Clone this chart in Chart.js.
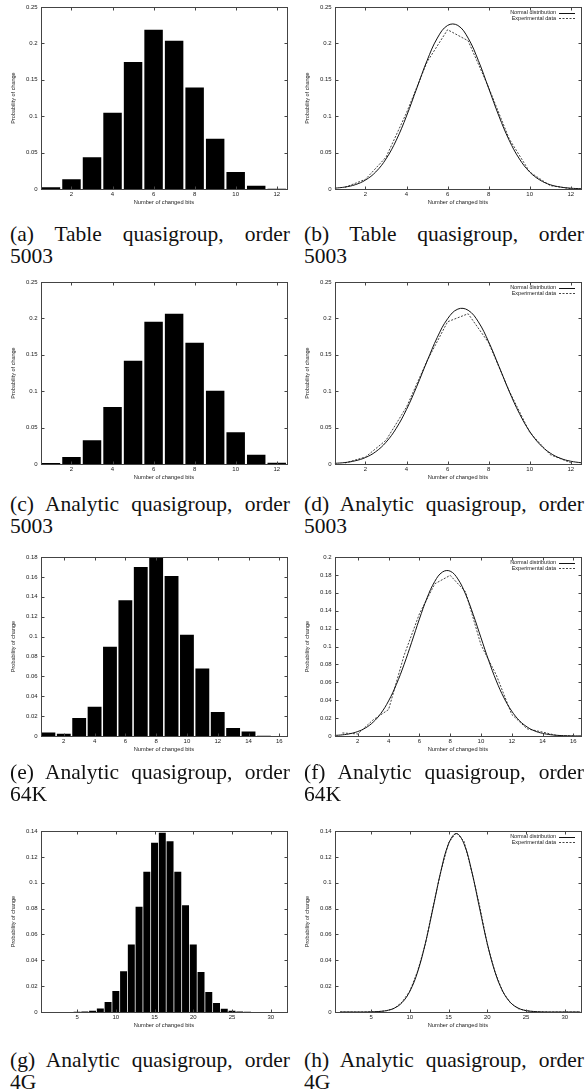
<!DOCTYPE html>
<html lang="en">
<head>
<meta charset="UTF-8">
<title>Probability of change vs number of changed bits</title>
<script src="https://cdn.jsdelivr.net/npm/chart.js"></script>
<style>
  body { margin: 0; background: #fff; }
  #page { position: relative; width: 588px; height: 1090px; overflow: hidden; }
  #page canvas { position: absolute; }
  .cap { position: absolute; width: 280px; font-family: 'Liberation Serif', 'Times New Roman', serif;
         font-size: 21.5px; line-height: 22.5px; color: #111; }
  .cap .l1 { text-align: justify; text-align-last: justify; }
</style>
</head>
<body>
<div id="page"></div>

<script>
// bar positions (number of changed bits)
const bits12 = [1, 2, 3, 4, 5, 6, 7, 8, 9, 10, 11, 12];
const bits16 = [1, 2, 3, 4, 5, 6, 7, 8, 9, 10, 11, 12, 13, 14, 15, 16];
const bits32 = [1, 2, 3, 4, 5, 6, 7, 8, 9, 10, 11, 12, 13, 14, 15, 16,
                17, 18, 19, 20, 21, 22, 23, 24, 25, 26, 27, 28, 29, 30, 31, 32];

// experimental probabilities
const tableQ5003 = [0.0023, 0.0133, 0.0437, 0.1048, 0.1745, 0.2188, 0.2036, 0.1395, 0.0690, 0.0234, 0.0046, 0.0005];
const analyticQ5003 = [0.0014, 0.0096, 0.0326, 0.0784, 0.1417, 0.1954, 0.2064, 0.1665, 0.1005, 0.0436, 0.0128, 0.0018];
const analyticQ64K = [0.0034, 0.0023, 0.0181, 0.0295, 0.0898, 0.1364, 0.1700, 0.1795, 0.1610, 0.1019,
                      0.0680, 0.0241, 0.0080, 0.0044, 0.0003, 0.0001];
const analyticQ4G = [0, 0, 0, 0, 0.0001, 0.0003, 0.0010, 0.0028, 0.0077, 0.0162, 0.0315, 0.0523, 0.0815, 0.1085,
                     0.1310, 0.1387, 0.1320, 0.1085, 0.0825, 0.0523, 0.0310, 0.0155, 0.0070, 0.0026, 0.0010,
                     0.0003, 0.0001, 0, 0, 0, 0, 0];

// normal distribution curves, sampled where read
const grid12 = [0.5, 1, 1.5, 2, 2.5, 3, 3.5, 4, 4.5, 5, 5.5, 6, 6.5, 7, 7.5, 8, 8.5, 9, 9.5, 10, 10.5, 11, 11.5, 12, 12.5];
const grid16 = [0.5, 1, 1.5, 2, 2.5, 3, 3.5, 4, 4.5, 5, 5.5, 6, 6.5, 7, 7.5, 8, 8.5, 9, 9.5, 10, 10.5,
                11, 11.5, 12, 12.5, 13, 13.5, 14, 14.5, 15, 15.5, 16, 16.5];
const normalTable5003 = [0.0011, 0.0027, 0.0059, 0.0123, 0.0234, 0.0413, 0.0670, 0.1003, 0.1385, 0.1764, 0.2073, 0.2247,
                         0.2247, 0.2073, 0.1764, 0.1385, 0.1003, 0.0670, 0.0413, 0.0234, 0.0123, 0.0059, 0.0027, 0.0011, 0.0004];
const normalAnalytic5003 = [0.0009, 0.0020, 0.0044, 0.0089, 0.0169, 0.0299, 0.0491, 0.0750, 0.1067, 0.1412, 0.1740, 0.1995,
                            0.2128, 0.2112, 0.1952, 0.1678, 0.1343, 0.0999, 0.0693, 0.0447, 0.0268, 0.0150, 0.0078, 0.0038, 0.0017];
const normal64K = [0.0006, 0.0013, 0.0026, 0.0050, 0.0090, 0.0155, 0.0253, 0.0392, 0.0574, 0.0796, 0.1047, 0.1306,
                   0.1543, 0.1727, 0.1832, 0.1842, 0.1755, 0.1585, 0.1356, 0.1099, 0.0845, 0.0615, 0.0425, 0.0278,
                   0.0172, 0.0101, 0.0056, 0.0030, 0.0015, 0.0007, 0.0003, 0.0001, 0.0001];
const normal4G = [0, 0, 0, 0, 0.0001, 0.0004, 0.0011, 0.0030, 0.0073, 0.0160, 0.0309, 0.0530, 0.0805, 0.1086,
                  0.1300, 0.1380, 0.1300, 0.1086, 0.0805, 0.0530, 0.0309, 0.0160, 0.0073, 0.0030, 0.0011,
                  0.0004, 0.0001, 0, 0, 0, 0, 0];

// tick labels
const xTicks12 = [2, 4, 6, 8, 10, 12];
const xTicks16 = [2, 4, 6, 8, 10, 12, 14, 16];
const xTicks32 = [5, 10, 15, 20, 25, 30];
const yTicks025 = [0, 0.05, 0.1, 0.15, 0.2, 0.25];
const yTicks018 = [0, 0.02, 0.04, 0.06, 0.08, 0.1, 0.12, 0.14, 0.16, 0.18];
const yTicks020 = [0, 0.02, 0.04, 0.06, 0.08, 0.1, 0.12, 0.14, 0.16, 0.18, 0.2];
const yTicks014 = [0, 0.02, 0.04, 0.06, 0.08, 0.1, 0.12, 0.14];

const captions = [
    ['(a) Table quasigroup, order', '5003'], ['(b) Table quasigroup, order', '5003'],
    ['(c) Analytic quasigroup, order', '5003'], ['(d) Analytic quasigroup, order', '5003'],
    ['(e) Analytic quasigroup, order', '64K'], ['(f) Analytic quasigroup, order', '64K'],
    ['(g) Analytic quasigroup, order', '4G'], ['(h) Analytic quasigroup, order', '4G']
];

Chart.defaults.font.family = "'Liberation Sans', Arial, sans-serif";
Chart.defaults.color = '#222';
Chart.defaults.animation = false;
Chart.defaults.events = [];

const fmt = v => String(+Number(v).toFixed(3));
const pts = (xs, ys) => xs.map((x, i) => ({ x: x, y: ys[i] }));

// gnuplot style frame, inward ticks and key
const gnuFrame = {
    id: 'gnuFrame',
    afterDraw(chart) {
        const { ctx, chartArea: a, scales } = chart;
        const l = Math.round(a.left) + 0.5, r = Math.round(a.right) + 0.5;
        const t = Math.round(a.top) + 0.5, b = Math.round(a.bottom) + 0.5;
        ctx.save();
        ctx.strokeStyle = '#444';
        ctx.lineWidth = 1;
        ctx.strokeRect(l, t, r - l, b - t);
        ctx.beginPath();
        scales.x.ticks.forEach(tk => {
            const px = Math.round(scales.x.getPixelForValue(tk.value)) + 0.5;
            ctx.moveTo(px, b); ctx.lineTo(px, b - 3);
            ctx.moveTo(px, t); ctx.lineTo(px, t + 3);
        });
        scales.y.ticks.forEach(tk => {
            const py = Math.round(scales.y.getPixelForValue(tk.value)) + 0.5;
            ctx.moveTo(l, py); ctx.lineTo(l + 3, py);
            ctx.moveTo(r, py); ctx.lineTo(r - 3, py);
        });
        ctx.stroke();

        if (chart.config.type === 'line') {
            ctx.font = "5.5px 'Liberation Sans', Arial, sans-serif";
            ctx.fillStyle = '#222';
            ctx.textAlign = 'right';
            ctx.textBaseline = 'middle';
            chart.data.datasets.forEach((ds, i) => {
                const y = a.top + 5.5 + i * 5.8;
                ctx.fillText(ds.label, a.right - 25, y);
                ctx.beginPath();
                ctx.strokeStyle = ds.borderColor;
                ctx.setLineDash(ds.borderDash || []);
                ctx.moveTo(a.right - 22, Math.round(y) + 0.5);
                ctx.lineTo(a.right - 6, Math.round(y) + 0.5);
                ctx.stroke();
            });
        }
        ctx.restore();
    }
};

function axes(xMin, xMax, xTicks, yMax, yTicks) {
    return {
        x: {
            type: 'linear', min: xMin, max: xMax, offset: false,
            grid: { display: false, drawTicks: false }, border: { display: false },
            afterBuildTicks: s => { s.ticks = xTicks.map(v => ({ value: v })); },
            afterFit: s => { s.height = 26; },
            ticks: { padding: 2, font: { size: 6 }, maxRotation: 0, autoSkip: false, callback: fmt },
            title: { display: true, text: 'Number of changed bits', font: { size: 5.7 }, padding: { top: 0, bottom: 9.3 } }
        },
        y: {
            min: 0, max: yMax,
            grid: { display: false, drawTicks: false }, border: { display: false },
            afterBuildTicks: s => { s.ticks = yTicks.map(v => ({ value: v })); },
            afterFit: s => { s.width = 40.7; },
            ticks: { padding: 3, font: { size: 6 }, autoSkip: false, callback: fmt },
            title: { display: true, text: 'Probability of change', font: { size: 5.5 }, padding: { top: 9.7, bottom: 0 } }
        }
    };
}

const page = document.getElementById('page');

function makeCanvas(left, top, h) {
    const c = document.createElement('canvas');
    c.width = 294;
    c.height = h;
    c.style.left = left + 'px';
    c.style.top = top + 'px';
    page.appendChild(c);
    return c;
}

function options(scales) {
    return {
        responsive: false,
        layout: { padding: { top: 7, right: 7, left: 0, bottom: 0 } },
        plugins: { legend: { display: false }, tooltip: { enabled: false } },
        scales: scales
    };
}

function barChart(left, top, h, bits, probs, xMin, xMax, xTicks, yMax, yTicks) {
    new Chart(makeCanvas(left, top, h), {
        type: 'bar',
        data: {
            datasets: [{
                data: pts(bits, probs),
                backgroundColor: '#000',
                borderWidth: 0,
                barPercentage: 0.9,
                categoryPercentage: 1
            }]
        },
        options: options(axes(xMin, xMax, xTicks, yMax, yTicks)),
        plugins: [gnuFrame]
    });
}

function curveChart(left, top, h, grid, normal, bits, probs, xMin, xMax, xTicks, yMax, yTicks) {
    new Chart(makeCanvas(left, top, h), {
        type: 'line',
        data: {
            datasets: [{
                label: 'Normal distribution',
                data: pts(grid, normal),
                borderColor: '#111',
                borderWidth: 1,
                pointRadius: 0,
                tension: 0.4
            }, {
                label: 'Experimental data',
                data: pts(bits, probs),
                borderColor: '#444',
                borderWidth: 1,
                borderDash: [2, 1.5],
                pointRadius: 0,
                tension: 0
            }]
        },
        options: options(axes(xMin, xMax, xTicks, yMax, yTicks)),
        plugins: [gnuFrame]
    });
}

// row 1
barChart(0, 0, 215, bits12, tableQ5003, 0.5, 12.5, xTicks12, 0.25, yTicks025);
curveChart(294, 0, 215, grid12, normalTable5003, bits12, tableQ5003, 0.5, 12.5, xTicks12, 0.25, yTicks025);
// row 2
barChart(0, 275, 215, bits12, analyticQ5003, 0.5, 12.5, xTicks12, 0.25, yTicks025);
curveChart(294, 275, 215, grid12, normalAnalytic5003, bits12, analyticQ5003, 0.5, 12.5, xTicks12, 0.25, yTicks025);
// row 3
barChart(0, 550, 212, bits16, analyticQ64K, 0.5, 16.5, xTicks16, 0.18, yTicks018);
curveChart(294, 550, 212, grid16, normal64K, bits16, analyticQ64K, 0.5, 16.5, xTicks16, 0.2, yTicks020);
// row 4
barChart(0, 824, 214, bits32, analyticQ4G, 0.3, 32.1, xTicks32, 0.14, yTicks014);
curveChart(294, 824, 214, bits32, normal4G, bits32, analyticQ4G, 0.3, 32.1, xTicks32, 0.14, yTicks014);

// captions
const capTops = [222.5, 492.5, 760.5, 1048.5];
captions.forEach((c, i) => {
    const d = document.createElement('div');
    d.className = 'cap';
    d.style.left = (i % 2 === 0 ? 10 : 304) + 'px';
    d.style.top = capTops[Math.floor(i / 2)] + 'px';
    const l1 = document.createElement('div');
    l1.className = 'l1';
    l1.textContent = c[0];
    const l2 = document.createElement('div');
    l2.textContent = c[1];
    d.appendChild(l1);
    d.appendChild(l2);
    page.appendChild(d);
});
</script>
</body>
</html>
